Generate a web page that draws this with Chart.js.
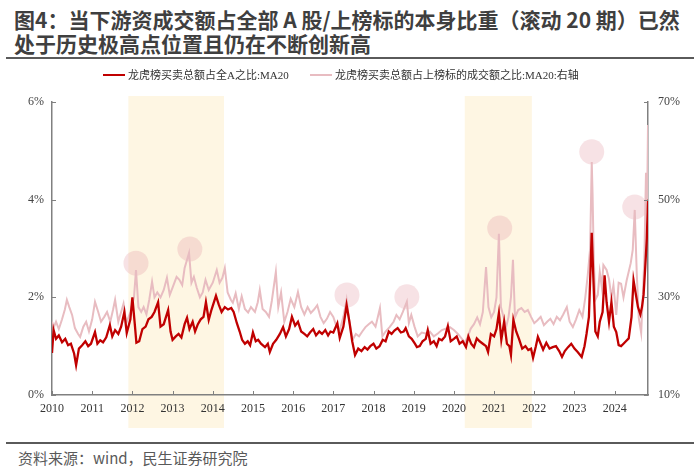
<!DOCTYPE html>
<html>
<head>
<meta charset="utf-8">
<script src="https://cdn.jsdelivr.net/npm/chart.js@4/dist/chart.umd.min.js"></script>
<style>
  body { margin: 0; width: 700px; height: 470px; background: #fff; position: relative; overflow: hidden; }
  .title { position: absolute; left: 14px; top: 7px; font: bold 21px/24px "Noto Sans CJK SC", sans-serif; color: #3f3f3f; white-space: nowrap; }
  .rule { position: absolute; left: 6px; width: 688px; height: 2px; background: #5a5a5a; }
  .legend { position: absolute; top: 67px; font: 11px/16px "Liberation Serif", "Noto Sans CJK SC", serif; color: #333; white-space: nowrap; z-index: 2; }
  .swatch { position: absolute; top: 7px; width: 22px; height: 2px; }
  .foot { position: absolute; left: 18px; top: 448px; font: 15px/20px "Noto Sans CJK SC", sans-serif; color: #595959; }
  #box { position: absolute; left: 0; top: 60px; width: 700px; height: 380px; }
</style>
</head>
<body>
<div class="title">图4：当下游资成交额占全部 A 股/上榜标的本身比重（滚动 20 期）已然<br>处于历史极高点位置且仍在不断创新高</div>
<div class="rule" style="top:57px"></div>
<div class="legend" style="left:103px"><span class="swatch" style="left:0;background:#C00000"></span><span style="margin-left:25px">龙虎榜买卖总额占全A之比:MA20</span></div>
<div class="legend" style="left:310px"><span class="swatch" style="left:0;background:#E8BCC1"></span><span style="margin-left:25px">龙虎榜买卖总额占上榜标的成交额之比:MA20:右轴</span></div>
<div id="box"><canvas id="myChart"></canvas></div>
<div class="rule" style="top:442px"></div>
<div class="foot">资料来源：wind，民生证券研究院</div>
<script>
// 龙虎榜买卖总额占全A之比 (左轴, %)
const redYears = [2010.00,2010.04,2010.10,2010.17,2010.25,2010.33,2010.40,2010.47,2010.55,2010.60,2010.67,2010.75,2010.83,2010.90,2010.97,
  2011.07,2011.13,2011.20,2011.27,2011.35,2011.44,2011.50,2011.57,2011.65,2011.72,2011.80,2011.86,2011.95,
  2012.00,2012.06,2012.10,2012.17,2012.25,2012.33,2012.40,2012.48,2012.55,2012.64,2012.70,2012.78,2012.89,2012.95,
  2013.00,2013.08,2013.15,2013.22,2013.30,2013.36,2013.42,2013.50,2013.56,2013.63,2013.70,2013.77,2013.83,2013.90,2013.97,
  2014.08,2014.15,2014.22,2014.30,2014.38,2014.46,2014.52,2014.60,2014.67,2014.73,2014.80,2014.87,2014.93,
  2015.00,2015.07,2015.13,2015.20,2015.30,2015.37,2015.42,2015.50,2015.58,2015.67,2015.75,2015.82,2015.90,2015.97,
  2016.05,2016.12,2016.20,2016.28,2016.35,2016.42,2016.50,2016.57,2016.65,2016.72,2016.80,2016.87,2016.93,
  2017.00,2017.10,2017.16,2017.25,2017.33,2017.40,2017.47,2017.54,2017.62,2017.70,2017.78,2017.85,2017.92,
  2018.00,2018.07,2018.15,2018.23,2018.30,2018.38,2018.45,2018.52,2018.60,2018.68,2018.75,2018.80,2018.88,2018.95,
  2019.03,2019.08,2019.15,2019.22,2019.30,2019.35,2019.42,2019.50,2019.57,2019.63,2019.70,2019.78,2019.85,2019.92,
  2020.00,2020.07,2020.14,2020.22,2020.30,2020.36,2020.43,2020.50,2020.57,2020.64,2020.72,2020.80,2020.85,2020.92,
  2021.00,2021.06,2021.12,2021.18,2021.25,2021.32,2021.38,2021.42,2021.48,2021.55,2021.62,2021.70,2021.78,2021.85,2021.92,2021.97,
  2022.04,2022.09,2022.16,2022.22,2022.30,2022.38,2022.46,2022.54,2022.62,2022.69,2022.76,2022.84,2022.92,
  2023.00,2023.08,2023.18,2023.25,2023.30,2023.36,2023.43,2023.47,2023.52,2023.58,2023.63,2023.70,2023.75,2023.80,2023.86,2023.92,2023.98,
  2024.04,2024.10,2024.16,2024.22,2024.28,2024.35,2024.42,2024.47,2024.52,2024.58,2024.64,2024.68,2024.72,2024.76,2024.80,2024.83];
const redShare = [0.86,1.33,1.15,1.22,1.08,1.15,1.02,1.05,0.85,0.61,0.95,1.02,1.10,1.00,1.05,
  1.29,1.05,1.12,1.08,1.18,1.43,1.20,1.33,1.25,1.40,1.70,1.27,1.55,
  2.00,1.45,1.07,1.10,1.35,1.40,1.55,1.60,1.70,1.90,1.40,1.45,1.74,1.30,
  1.13,1.20,1.25,1.18,1.45,1.58,1.35,1.50,1.30,1.45,1.55,1.60,1.90,1.54,1.75,
  2.03,1.85,1.70,1.80,1.75,1.78,1.70,1.47,1.30,1.13,1.05,1.10,1.02,
  1.28,1.10,1.13,1.05,0.98,1.05,0.88,1.05,1.13,1.25,1.39,1.20,1.35,1.60,
  1.42,1.50,1.30,1.25,1.20,1.28,1.35,1.22,1.30,1.25,1.33,1.22,1.30,
  1.28,1.47,1.17,1.40,1.84,1.50,1.10,0.82,0.95,0.90,0.98,0.93,1.00,
  1.05,0.95,1.00,1.13,1.10,1.30,1.25,1.32,1.37,1.28,1.30,1.37,1.20,1.15,
  1.05,0.98,1.00,1.10,1.15,1.33,1.05,1.10,1.00,1.15,1.12,1.20,1.41,1.10,
  1.15,1.20,1.05,1.10,0.98,1.20,1.05,0.98,1.16,1.10,1.05,1.00,0.88,1.25,
  1.20,1.35,1.68,1.13,1.50,1.05,1.00,0.82,1.54,1.30,1.15,0.95,1.00,0.92,0.95,0.76,
  1.00,1.19,1.05,0.93,1.07,0.95,0.98,1.00,0.90,0.78,0.90,0.98,1.05,
  0.95,0.88,0.78,1.00,1.25,1.60,3.32,2.40,1.30,1.20,1.50,1.70,2.45,1.90,1.50,1.90,1.40,
  1.29,1.02,1.00,1.05,1.10,1.16,1.60,2.35,2.10,1.80,1.65,1.80,2.05,2.60,3.20,4.00];

// 龙虎榜买卖总额占上榜标的成交额之比 (右轴, %)
const pinkYears = [2010.00,2010.05,2010.10,2010.17,2010.25,2010.32,2010.37,2010.43,2010.50,2010.57,2010.65,2010.70,2010.78,2010.85,2010.92,
  2011.00,2011.07,2011.15,2011.22,2011.30,2011.37,2011.45,2011.52,2011.57,2011.65,2011.72,2011.78,2011.85,2011.95,
  2012.04,2012.09,2012.15,2012.22,2012.28,2012.35,2012.42,2012.49,2012.55,2012.62,2012.70,2012.78,2012.86,2012.93,
  2013.00,2013.10,2013.17,2013.24,2013.30,2013.41,2013.47,2013.53,2013.60,2013.68,2013.75,2013.82,2013.90,
  2014.00,2014.10,2014.17,2014.24,2014.30,2014.37,2014.45,2014.50,2014.57,2014.65,2014.72,2014.80,2014.88,2014.95,
  2015.05,2015.12,2015.17,2015.24,2015.32,2015.40,2015.47,2015.57,2015.63,2015.70,2015.78,2015.86,2015.94,
  2016.03,2016.12,2016.20,2016.28,2016.36,2016.44,2016.52,2016.60,2016.68,2016.76,2016.84,2016.92,
  2017.00,2017.08,2017.16,2017.25,2017.33,2017.40,2017.48,2017.56,2017.64,2017.72,2017.80,2017.88,2017.96,
  2018.05,2018.16,2018.22,2018.30,2018.40,2018.50,2018.57,2018.65,2018.73,2018.83,2018.88,2018.94,
  2019.02,2019.10,2019.20,2019.30,2019.40,2019.50,2019.60,2019.70,2019.80,2019.90,
  2020.00,2020.10,2020.20,2020.27,2020.35,2020.42,2020.50,2020.58,2020.65,2020.72,2020.80,2020.86,2020.93,
  2021.00,2021.06,2021.12,2021.17,2021.22,2021.30,2021.36,2021.42,2021.47,2021.52,2021.60,2021.68,2021.76,2021.84,2021.92,
  2022.00,2022.08,2022.16,2022.24,2022.32,2022.40,2022.48,2022.56,2022.64,2022.72,2022.81,2022.88,2022.96,
  2023.04,2023.12,2023.20,2023.27,2023.33,2023.39,2023.43,2023.45,2023.48,2023.52,2023.58,2023.63,2023.68,2023.72,2023.80,2023.86,2023.92,2023.97,
  2024.04,2024.10,2024.16,2024.22,2024.30,2024.40,2024.45,2024.50,2024.55,2024.60,2024.66,2024.70,2024.74,2024.78,2024.81,2024.83];
const pinkShare = [25.0,24.0,25.0,23.5,25.5,27.5,29.5,28.0,26.4,23.7,22.5,21.9,24.0,25.0,23.0,
  25.5,29.1,27.0,25.0,26.0,27.0,25.0,27.5,29.5,25.0,27.0,28.7,24.7,27.0,
  30.0,35.6,28.0,27.0,28.0,26.5,29.5,33.2,30.0,31.0,30.0,31.5,34.0,30.5,
  32.0,34.2,33.6,32.5,36.0,39.1,33.0,34.2,32.0,30.0,31.0,33.6,31.5,
  33.0,35.6,33.0,34.0,36.0,31.0,29.5,28.9,30.8,27.6,30.2,27.6,26.9,28.0,
  27.0,29.0,31.5,27.6,27.0,26.0,29.3,35.2,28.0,31.0,25.0,27.0,29.7,
  28.0,31.1,28.0,26.5,28.0,26.8,27.5,28.4,26.0,24.7,25.6,27.0,
  26.0,24.0,23.3,26.0,29.5,25.0,21.3,22.5,22.0,23.0,23.9,24.5,25.0,
  24.0,27.8,22.0,23.0,23.9,25.0,26.4,25.5,27.0,29.1,24.7,26.4,
  24.0,22.0,22.8,22.6,23.0,22.0,22.6,23.3,23.6,23.9,
  23.3,22.5,21.5,20.7,22.0,23.6,24.5,25.9,24.5,27.0,36.2,28.0,25.9,
  27.0,30.0,43.0,28.0,26.5,23.9,26.0,30.0,37.7,25.9,27.4,27.8,27.0,27.4,26.0,
  24.7,25.3,26.0,24.3,25.0,25.6,24.5,26.0,25.3,26.5,28.0,25.0,23.9,
  25.5,27.4,26.0,30.0,34.5,40.0,57.7,51.4,38.0,29.5,30.5,35.2,32.1,36.6,35.6,33.7,29.9,32.5,
  26.4,33.0,32.8,30.0,33.5,37.0,39.7,47.9,35.0,25.8,22.7,30.0,38.0,55.5,50.0,65.3];

// 标注圆圈 (右轴坐标)
const markYears = [2012.09, 2013.43, 2017.34, 2018.83, 2021.14, 2023.43, 2024.50];
const markShare = [37.0, 39.9, 30.5, 30.1, 44.2, 59.8, 48.5];

// 阴影区间
const bandStart = [2011.90, 2020.27];
const bandEnd = [2014.28, 2021.94];

const toPts = (xs, ys) => xs.map((x, i) => ({ x: x, y: ys[i] }));

const bands = {
  id: 'bands',
  beforeDraw(chart) {
    const c = chart.ctx, sx = chart.scales.x, area = chart.chartArea;
    c.save();
    c.fillStyle = '#FEF6E3';
    for (let i = 0; i < bandStart.length; i++) {
      const a = sx.getPixelForValue(bandStart[i]);
      const b = sx.getPixelForValue(bandEnd[i]);
      c.fillRect(a, area.top - 6, b - a, area.bottom - area.top + 39);
    }
    c.restore();
  }
};

// ticks point into the plot
const innerTicks = {
  id: 'innerTicks',
  afterDraw(chart) {
    const c = chart.ctx, s = chart.scales, area = chart.chartArea;
    c.save();
    c.strokeStyle = '#808080';
    c.lineWidth = 1;
    c.beginPath();
    s.x.ticks.forEach(t => {
      const p = Math.round(s.x.getPixelForValue(t.value)) + 0.5;
      c.moveTo(p, area.bottom); c.lineTo(p, area.bottom - 4);
    });
    s.y.ticks.forEach(t => {
      const p = Math.round(s.y.getPixelForValue(t.value)) + 0.5;
      c.moveTo(area.left, p); c.lineTo(area.left + 4, p);
    });
    s.y1.ticks.forEach(t => {
      const p = Math.round(s.y1.getPixelForValue(t.value)) + 0.5;
      c.moveTo(area.right, p); c.lineTo(area.right - 4, p);
    });
    c.stroke();
    c.restore();
  }
};

const tickFont = { family: '"Liberation Serif", serif', size: 12 };

new Chart(document.getElementById('myChart'), {
  type: 'line',
  data: {
    datasets: [
      {
        label: '龙虎榜买卖总额占全A之比:MA20',
        data: toPts(redYears, redShare),
        yAxisID: 'y',
        borderColor: '#C00000',
        borderWidth: 2.3,
        pointRadius: 0,
        tension: 0,
        order: 0
      },
      {
        label: '龙虎榜买卖总额占上榜标的成交额之比:MA20:右轴',
        data: toPts(pinkYears, pinkShare),
        yAxisID: 'y1',
        borderColor: '#E8BCC1',
        borderWidth: 2,
        pointRadius: 0,
        tension: 0,
        order: 1
      },
      {
        type: 'scatter',
        label: 'marks',
        data: toPts(markYears, markShare),
        yAxisID: 'y1',
        pointRadius: 12.5,
        pointBackgroundColor: 'rgba(225,150,162,0.28)',
        pointBorderWidth: 0,
        showLine: false,
        order: 2
      }
    ]
  },
  options: {
    responsive: true,
    maintainAspectRatio: false,
    animation: false,
    layout: { padding: { top: 42, left: 0, right: 0, bottom: 0 } },
    plugins: { legend: { display: false }, tooltip: { enabled: false } },
    scales: {
      x: {
        type: 'linear',
        min: 2010,
        max: 2024.83,
        afterFit: s => { s.height = 45; },
        grid: { drawOnChartArea: false, drawTicks: false },
        border: { color: '#808080', width: 1.5 },
        ticks: {
          stepSize: 1,
          includeBounds: false,
          autoSkip: false,
          maxRotation: 0,
          padding: 7,
          color: '#333',
          font: tickFont,
          callback: v => Number.isInteger(v) ? String(v) : ''
        }
      },
      y: {
        position: 'left',
        min: 0,
        max: 6,
        afterFit: s => { s.width = 52; },
        grid: { drawOnChartArea: false, drawTicks: false },
        border: { color: '#808080', width: 1.5 },
        ticks: { stepSize: 2, padding: 8, color: '#444', font: tickFont, callback: v => v + '%' }
      },
      y1: {
        position: 'right',
        min: 10,
        max: 70,
        afterFit: s => { s.width = 52; },
        grid: { drawOnChartArea: false, drawTicks: false },
        border: { color: '#808080', width: 1.5 },
        ticks: { stepSize: 20, padding: 10, color: '#444', font: tickFont, callback: v => v + '%' }
      }
    }
  },
  plugins: [bands, innerTicks]
});
</script>
</body>
</html>
